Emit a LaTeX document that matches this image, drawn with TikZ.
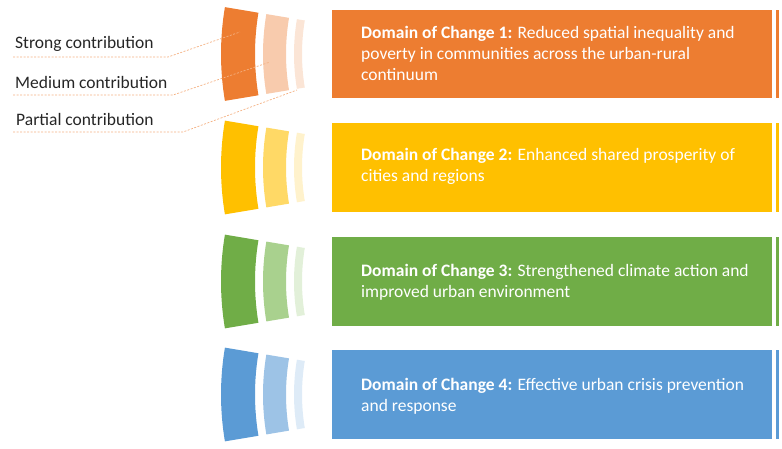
\documentclass[tikz,border=0pt]{standalone}
\usepackage{fontspec}
\setmainfont{Carlito}
\usetikzlibrary{calc}
\definecolor{orA}{HTML}{ED7D31}\definecolor{orB}{HTML}{F8CBAD}\definecolor{orC}{HTML}{FBE5D6}
\definecolor{yeA}{HTML}{FFC000}\definecolor{yeB}{HTML}{FFD966}\definecolor{yeC}{HTML}{FFF2CC}
\definecolor{grA}{HTML}{70AD47}\definecolor{grB}{HTML}{A9D18E}\definecolor{grC}{HTML}{E2F0D9}
\definecolor{blA}{HTML}{5B9BD5}\definecolor{blB}{HTML}{9DC3E6}\definecolor{blC}{HTML}{DEEBF7}
\definecolor{lead}{HTML}{F4B183}
\definecolor{lbl}{HTML}{262626}
\tikzset{
  domaintext/.style={text=white, font=\fontsize{17.5}{21}\selectfont, align=left, anchor=base west, inner sep=0pt},
  lbltext/.style={text=lbl, font=\fontsize{17.5}{20}\selectfont, anchor=base west, inner sep=0pt},
  leader/.style={draw=lead, dashed, dash pattern=on 2pt off 1.5pt, line width=0.7pt},
}
% #1 centre y, #2 outer radius, #3 inner radius, #4 colour
\newcommand{\sector}[4]{%
  \fill[#4] ($(505,#1)+(180-9.5:#2)$) arc[start angle=180-9.5, end angle=180+9.5, radius=#2]
    -- ($(505,#1)+(180+9.5:#3)$) arc[start angle=180+9.5, end angle=180-9.5, radius=#3] -- cycle;}
\newcommand{\domainrow}[5]{% #1 top, #2 bottom, #3 A, #4 B, #5 C
  \pgfmathsetmacro{\cy}{(#1+#2)/2}
  \sector{\cy}{284}{250}{#3}
  \sector{\cy}{242}{219}{#4}
  \sector{\cy}{211}{203}{#5}
  \fill[#3] (332,#1) rectangle (772,#2);
  \fill[#3] (776,#1) rectangle (779,#2);}
\begin{document}
\begin{tikzpicture}[x=1pt,y=-1pt]
\useasboundingbox (0,0) rectangle (782,448);
\domainrow{10}{98}{orA}{orB}{orC}
\domainrow{123}{212}{yeA}{yeB}{yeC}
\domainrow{237}{326}{grA}{grB}{grC}
\domainrow{350}{439}{blA}{blB}{blC}
\node[domaintext] (d1) at (361,80) {\textbf{Domain of Change 1:} Reduced spatial inequality and\\poverty in communities across the urban-rural\\continuum};
\node[domaintext] (d2) at (361,181) {\textbf{Domain of Change 2:} Enhanced shared prosperity of\\cities and regions};
\node[domaintext] (d3) at (361,297) {\textbf{Domain of Change 3:} Strengthened climate action and\\improved urban environment};
\node[domaintext] (d4) at (361,411) {\textbf{Domain of Change 4:} Effective urban crisis prevention\\and response};
\node[lbltext] (ls) at (15,48) {Strong contribution};
\node[lbltext] (lm) at (15,88) {Medium contribution};
\node[lbltext] (lp) at (16,125) {Partial contribution};
\coordinate (s0) at (13,57); \coordinate (s1) at (168,57); \coordinate (s2) at (240,32);
\coordinate (m0) at (13,95); \coordinate (m1) at (173,95); \coordinate (m2) at (270,62);
\coordinate (p0) at (13,132); \coordinate (p1) at (183,132); \coordinate (p2) at (297,90);
\draw[leader] (s0) -- (s1) -- (s2);
\draw[leader] (m0) -- (m1) -- (m2);
\draw[leader] (p0) -- (p1) -- (p2);
\end{tikzpicture}
\end{document}
